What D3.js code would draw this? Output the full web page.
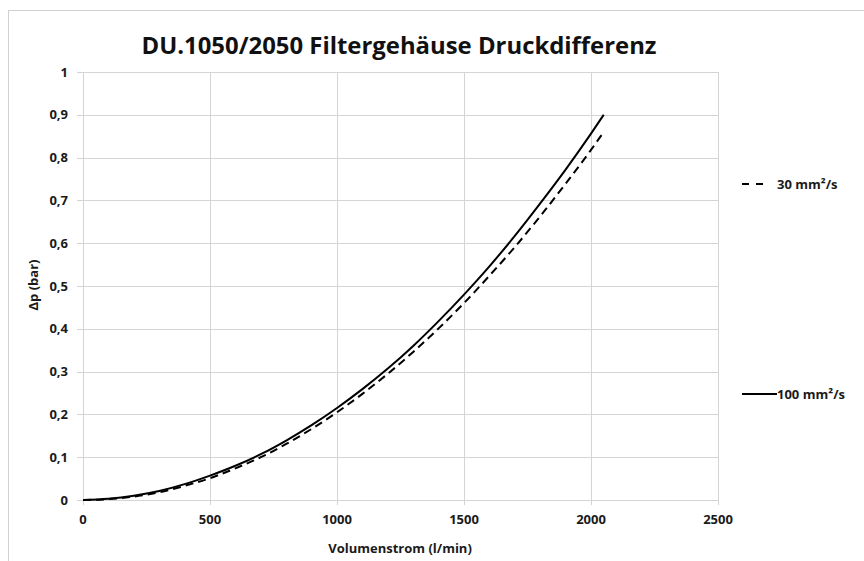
<!DOCTYPE html>
<html><head><meta charset="utf-8">
<script src="https://cdn.jsdelivr.net/npm/d3@7"></script>
<style>body{margin:0;background:#fff}svg{display:block}</style>
</head><body><svg id="c" width="864" height="561"></svg>
<script>
const flow = [0,100,200,300,400,500,600,700,800,900,1000,1100,1200,1300,1400,1500,1600,1700,1800,1900,2000,2050];
const dp100 = [0,0.003,0.01,0.021,0.037,0.057,0.08,0.107,0.139,0.175,0.215,0.259,0.307,0.36,0.418,0.48,0.546,0.617,0.693,0.772,0.856,0.9];
const dp30 = [0,0.002,0.008,0.018,0.033,0.051,0.074,0.1,0.131,0.166,0.205,0.248,0.295,0.346,0.401,0.46,0.524,0.591,0.663,0.739,0.818,0.86];
const xTicks = [0,500,1000,1500,2000,2500];
const yTicks = [0,0.1,0.2,0.3,0.4,0.5,0.6,0.7,0.8,0.9,1];
const seriesNames = ["30 mm²/s","100 mm²/s"];
const title = "DU.1050/2050 Filtergehäuse Druckdifferenz";

const svg = d3.select("#c");
const font = "'Open Sans', sans-serif";
const grid = "#d4d4d4";
svg.append("rect").attr("x",8.5).attr("y",10.5).attr("width",870).attr("height",570)
  .attr("fill","none").attr("stroke","#d0d0d0");

const x = d3.scaleLinear().domain([0,2500]).range([83,718]);
const y = d3.scaleLinear().domain([0,1]).range([500,72]);

const g = svg.append("g");
g.selectAll(".gx").data(xTicks).join("line")
  .attr("x1",d=>Math.round(x(d))+0.5).attr("x2",d=>Math.round(x(d))+0.5)
  .attr("y1",y(1)).attr("y2",y(0)+5).attr("stroke",grid);
g.selectAll(".gy").data(yTicks).join("line")
  .attr("y1",d=>Math.round(y(d))+0.5).attr("y2",d=>Math.round(y(d))+0.5)
  .attr("x1",x(0)-6).attr("x2",x(2500)).attr("stroke",grid);

const fmt = d=> String(d).replace(".",",");
g.selectAll(".ty").data(yTicks).join("text")
  .attr("x",68).attr("y",d=>y(d)).attr("dy","0.35em").attr("text-anchor","end")
  .attr("font-family",font).attr("font-weight","bold").attr("font-size",13).attr("fill","#1a1a1a")
  .text(fmt);
g.selectAll(".tx").data(xTicks).join("text")
  .attr("x",d=>x(d)).attr("y",524).attr("text-anchor","middle")
  .attr("font-family",font).attr("font-weight","bold").attr("font-size",13).attr("fill","#1a1a1a")
  .text(d=>d);

const line = d3.line().x((d,i)=>x(flow[i])).y(d=>y(d)).curve(d3.curveMonotoneX);
svg.append("path").attr("d",line(dp30)).attr("fill","none").attr("stroke","#000")
  .attr("stroke-width",2).attr("stroke-dasharray","8,5");
svg.append("path").attr("d",line(dp100)).attr("fill","none").attr("stroke","#000")
  .attr("stroke-width",2);

svg.append("line").attr("x1",742).attr("x2",763).attr("y1",184).attr("y2",184)
  .attr("stroke","#000").attr("stroke-width",2).attr("stroke-dasharray","7,7");
svg.append("text").attr("x",777).attr("y",184).attr("dy","0.35em")
  .attr("font-family",font).attr("font-weight","bold").attr("font-size",13).attr("fill","#1a1a1a")
  .text(seriesNames[0]);
svg.append("line").attr("x1",742).attr("x2",777).attr("y1",394).attr("y2",394)
  .attr("stroke","#000").attr("stroke-width",2);
svg.append("text").attr("x",777).attr("y",394).attr("dy","0.35em")
  .attr("font-family",font).attr("font-weight","bold").attr("font-size",13).attr("fill","#1a1a1a")
  .text(seriesNames[1]);

svg.append("text").attr("x",399).attr("y",54).attr("text-anchor","middle")
  .attr("font-family",font).attr("font-weight","bold").attr("font-size",24).attr("fill","#111")
  .attr("textLength",515).attr("lengthAdjust","spacingAndGlyphs")
  .text(title);

svg.append("text").attr("x",400).attr("y",553).attr("text-anchor","middle")
  .attr("font-family",font).attr("font-weight","bold").attr("font-size",13).attr("fill","#1a1a1a")
  .text("Volumenstrom (l/min)");
svg.append("text").attr("transform","translate(38,285) rotate(-90)").attr("text-anchor","middle")
  .attr("font-family",font).attr("font-weight","bold").attr("font-size",13).attr("fill","#1a1a1a")
  .text("Δp (bar)");
</script></body></html>
